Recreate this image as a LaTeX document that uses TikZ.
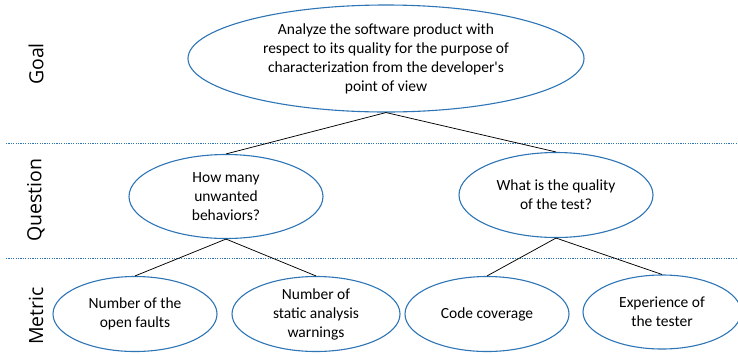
\documentclass[tikz,border=0pt]{standalone}
\usepackage{fontspec}
\setmainfont{Carlito}[Ligatures=TeXOff]
\newfontfamily\levelfont{Open Sans}
\usetikzlibrary{shapes.geometric}
\definecolor{ovalblue}{RGB}{46,117,182}
\tikzset{
  oval/.style={ellipse, draw=ovalblue, line width=1.1pt, fill=white, inner sep=0pt,
    align=center, font=\fontsize{15.5}{19}\selectfont},
  link/.style={draw=black, line width=0.75pt},
  divider/.style={draw=ovalblue, line width=1pt, dash pattern=on 1.2pt off 1.2pt},
  level/.style={rotate=90, font=\levelfont\fontsize{19.5}{22}\selectfont, inner sep=0pt}
}
\begin{document}
\begin{tikzpicture}[x=1pt, y=-1pt]
  \useasboundingbox (0,0) rectangle (738,354);
  % level dividers
  \coordinate (d1a) at (6,143);  \coordinate (d1b) at (738,143);
  \coordinate (d2a) at (6,258);  \coordinate (d2b) at (738,258);
  \draw[divider] (d1a) -- (d1b);
  \draw[divider] (d2a) -- (d2b);
  % level names
  \node[level] (lg) at (36,64) {Goal};
  \node[level] (lq) at (36,200) {Question};
  \node[level] (lm) at (36,316) {Metric};
  % goal
  \node[oval, minimum width=396pt, minimum height=107pt] (goal) at (386,58.5)
    {Analyze the software product with\\respect to its quality for the purpose of\\characterization from the developer's\\point of view};
  % questions
  \node[oval, minimum width=194pt, minimum height=84pt] (q1) at (226,196.5)
    {How many\\unwanted\\behaviors?};
  \node[oval, minimum width=194pt, minimum height=85pt] (q2) at (556,195)
    {What is the quality\\of the test?};
  % metrics
  \node[oval, minimum width=164pt, minimum height=75pt] (m1) at (135,314)
    {Number of the\\open faults};
  \node[oval, minimum width=168pt, minimum height=75pt] (m2) at (316,314)
    {Number of\\static analysis\\warnings};
  \node[oval, minimum width=164pt, minimum height=75pt] (m3) at (487,314)
    {Code coverage};
  \node[oval, minimum width=158pt, minimum height=74pt] (m4) at (662,312)
    {Experience of\\the tester};
  % tree links
  \draw[link] (goal.south) -- (q1.north);
  \draw[link] (goal.south) -- (q2.north);
  \draw[link] (q1.south) -- (m1.north);
  \draw[link] (q1.south) -- (m2.north);
  \draw[link] (q2.south) -- (m3.north);
  \draw[link] (q2.south) -- (m4.north);
\end{tikzpicture}
\end{document}
